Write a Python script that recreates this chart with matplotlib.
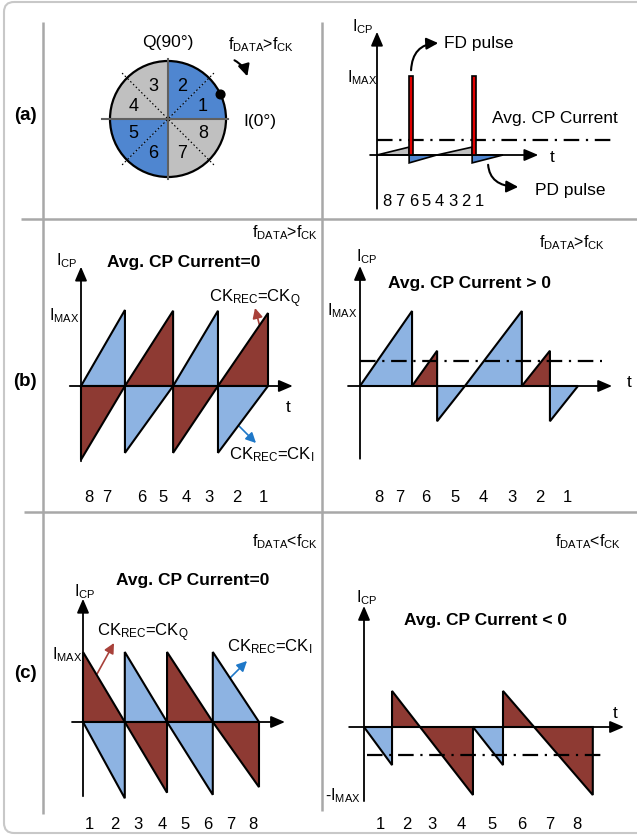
"""Charge-pump current waveforms for the I/Q phase sectors (three cases)."""

import matplotlib

matplotlib.use("Agg")
import matplotlib.pyplot as plt  # noqa: E402
import numpy as np  # noqa: E402
from matplotlib.patches import (  # noqa: E402
    Circle,
    FancyArrowPatch,
    FancyBboxPatch,
    Polygon,
    Rectangle,
    Wedge,
)

plt.rcParams["font.family"] = ["Liberation Sans", "DejaVu Sans"]
plt.rcParams["mathtext.fontset"] = "custom"
plt.rcParams["mathtext.rm"] = "Liberation Sans"
plt.rcParams["mathtext.it"] = "Liberation Sans:italic"
plt.rcParams["mathtext.bf"] = "Liberation Sans:bold"

W, H = 637, 837

COLORS = {
    "blue": "#4F86D0",
    "gray": "#C0C0C0",
    "lblue": "#8DB3E2",
    "red": "#8E3A33",
    "pulse": "#E00000",
}

# ---- (a) phase circle: sector number -> quadrant colour, data phase marker (deg)
SECTORS = [1, 2, 3, 4, 5, 6, 7, 8]
SECTOR_FILL = ["blue", "blue", "gray", "gray", "blue", "blue", "gray", "gray"]
DOT_ANGLE = 25

# ---- (a) CP current, t in clock periods, I in units of I_MAX
A_T = [0.0, 0.51, 0.95, 1.51, 2.0]
A_START = [0.0, -0.10, 0.0, -0.10]
A_END = [0.10, 0.0, 0.10, 0.0]
A_FILL = ["gray", "blue", "gray", "blue"]
A_PULSE_T = [0.51, 1.51]
A_PULSE_W = 0.065
A_PULSE_H = 1.0
A_AVG = 0.19
A_ORDER = ["8", "7", "6", "5", "4", "3", "2", "1"]

# ---- (b) left: f_DATA > f_CK, both recovered clocks
BL_T = [0.0, 0.94, 1.97, 2.93, 4.0]
BL_TOP = [1.0, 0.99, 0.99, 0.96]
BL_BOT = [-0.97, -0.88, -0.88, -0.88]
BL_TOP_FILL = ["lblue", "red", "lblue", "red"]
BL_BOT_FILL = ["red", "lblue", "red", "lblue"]
BL_ORDER = ["8", "7", "6", "5", "4", "3", "2", "1"]

# ---- (b) right: f_DATA > f_CK, resulting CP current
BR_T = [0.0, 1.91, 2.83, 3.85, 5.94, 6.97, 8.0]
BR_START = [0.0, 0.0, -0.47, 0.0, 0.0, -0.47]
BR_END = [1.0, 0.47, 0.0, 1.0, 0.47, 0.0]
BR_FILL = ["lblue", "red", "lblue", "lblue", "red", "lblue"]
BR_AVG = 0.33
BR_ORDER = ["8", "7", "6", "5", "4", "3", "2", "1"]

# ---- (c) left: f_DATA < f_CK, both recovered clocks
CL_T = [0.0, 0.95, 1.91, 2.95, 4.0]
CL_TOP = [1.0, 1.0, 1.0, 1.0]
CL_BOT = [-1.09, -1.01, -1.04, -0.93]
CL_TOP_FILL = ["red", "lblue", "red", "lblue"]
CL_BOT_FILL = ["lblue", "red", "lblue", "red"]
CL_ORDER = ["1", "2", "3", "4", "5", "6", "7", "8"]

# ---- (c) right: f_DATA < f_CK, resulting CP current
CR_T = [0.0, 0.98, 3.81, 4.86, 8.0]
CR_START = [0.0, 0.53, 0.0, 0.53]
CR_END = [-0.56, -1.0, -0.56, -1.0]
CR_FILL = ["lblue", "red", "lblue", "red"]
CR_AVG = -0.41
CR_ORDER = ["1", "2", "3", "4", "5", "6", "7", "8"]

FS = 12.0       # plain labels
SUB_FS = 11.5   # I_CP / I_MAX / f_DATA labels
BOLD_FS = 12.5  # "Avg. CP Current" headings
NUM_FS = 12.0   # sector order under the waveforms

fig = plt.figure(figsize=(W / 100, H / 100), dpi=100)
base = fig.add_axes([0, 0, 1, 1])
base.set_xlim(0, W)
base.set_ylim(H, 0)
base.axis("off")


def overlay(x0, y0, sx, sy):
    """Full-figure axes whose data origin sits at pixel (x0, y0), sx/sy px per unit."""
    ax = fig.add_axes([0, 0, 1, 1], facecolor="none")
    ax.set_xlim(-x0 / sx, (W - x0) / sx)
    ax.set_ylim(-(H - y0) / sy, y0 / sy)
    ax.axis("off")
    return ax


def txt(x, y, s, ha="center", size=FS, weight="normal"):
    base.text(x, y, s, ha=ha, va="center", fontsize=size, fontweight=weight)


def segments(ax, t, start, end, fills, lw=1.5):
    for k, fc in enumerate(fills):
        t0, t1 = t[k], t[k + 1]
        poly = Polygon(
            [(t0, 0), (t0, start[k]), (t1, end[k]), (t1, 0)],
            closed=True,
            facecolor=COLORS[fc],
            edgecolor="black",
            lw=lw,
            joinstyle="miter",
            zorder=2,
        )
        ax.add_patch(poly)


def axes_arrows(ax, xr, yr, lw=1.3):
    style = "-|>,head_length=0.7,head_width=0.3"
    for a, b in (((xr[0], 0), (xr[1], 0)), ((0, yr[0]), (0, yr[1]))):
        ax.add_patch(
            FancyArrowPatch(a, b, arrowstyle=style, mutation_scale=12, lw=lw,
                            color="black", shrinkA=0, shrinkB=0, zorder=3)
        )


def avg_line(ax, x0, x1, level):
    ax.plot([x0, x1], [level, level], color="black", lw=1.6,
            ls=(0, (7, 3, 1, 3)), zorder=4)


def small_arrow(p0, p1, color):
    base.add_patch(
        FancyArrowPatch(p0, p1, arrowstyle="-|>,head_length=0.6,head_width=0.3",
                        mutation_scale=10, lw=1.2, color=color, shrinkA=0, shrinkB=0)
    )


def curved_arrow(p0, p1, conn):
    base.add_patch(
        FancyArrowPatch(p0, p1, connectionstyle=conn,
                        arrowstyle="-|>,head_length=0.7,head_width=0.35",
                        mutation_scale=10, lw=1.5, color="black")
    )


def order_labels(labels, xs, y):
    for lab, x in zip(labels, xs):
        txt(x, y, lab, size=NUM_FS)


# ---------------------------------------------------------------- frame
base.add_patch(
    FancyBboxPatch((4, 3), 660, 831, boxstyle="round,pad=0,rounding_size=10",
                   fc="none", ec="#C8C8C8", lw=1.5)
)
grid = dict(color="#A8A8A8", lw=1.8, solid_capstyle="butt")
base.plot([43, 43], [23, 815], **grid)
base.plot([322, 322], [23, 812], **grid)
base.plot([21, W], [220, 220], **grid)
base.plot([24, W], [513, 513], **grid)

txt(25, 115, "(a)", size=13.5, weight="bold")
txt(25, 381, "(b)", size=13.5, weight="bold")
txt(25, 673, "(c)", size=13.5, weight="bold")

# ---------------------------------------------------------------- (a) circle
axc = overlay(168, 120, 58, 58)
for k, fc in zip(SECTORS, SECTOR_FILL):
    th = 45 * (k - 1)
    axc.add_patch(Wedge((0, 0), 1.0, th, th + 45, fc=COLORS[fc], ec="none"))
    ang = np.radians(th + 22.5)
    axc.text(0.65 * np.cos(ang), 0.62 * np.sin(ang), str(k), ha="center",
             va="center", fontsize=13, zorder=4)
for ang in (45, 135):
    r = np.radians(ang)
    axc.plot([-1.12 * np.cos(r), 1.12 * np.cos(r)], [-1.12 * np.sin(r), 1.12 * np.sin(r)],
             color="black", lw=0.8, ls=(0, (1.5, 2)))
axc.plot([-1.14, 1.03], [0, 0], color="#606060", lw=1.5)
axc.plot([0, 0], [-1.03, 1.03], color="#606060", lw=1.5)
axc.add_patch(Circle((0, 0), 1.0, fc="none", ec="black", lw=1.6))
axc.add_patch(Circle((np.cos(np.radians(DOT_ANGLE)), np.sin(np.radians(DOT_ANGLE))),
                     0.075, fc="black", ec="black", zorder=5))
txt(168, 42, "Q(90°)", size=12.5)
txt(243, 121, "I(0°)", ha="left", size=12.5)
txt(261, 45, r"f$_{\rm DATA}$>f$_{\rm CK}$", size=SUB_FS)
curved_arrow((232, 60), (248, 80), "arc3,rad=-0.25")

# ---------------------------------------------------------------- (a) waveform
axa = overlay(377, 156, 63, 79)
segments(axa, A_T, A_START, A_END, A_FILL, lw=1.2)
for tp in A_PULSE_T:
    axa.add_patch(Rectangle((tp, 0), A_PULSE_W, A_PULSE_H, fc=COLORS["pulse"],
                            ec="black", lw=1.2, zorder=5))
axes_arrows(axa, (-0.11, 2.56), (-0.68, 1.56))
avg_line(axa, 0.0, 3.81, A_AVG)
txt(363, 27, r"I$_{\rm CP}$", size=SUB_FS)
txt(362, 78, r"I$_{\rm MAX}$", size=SUB_FS)
txt(444, 43, "FD pulse", ha="left", size=12.5)
txt(555, 118, "Avg. CP Current", size=12.5)
txt(552, 157, "t", size=12.5)
txt(535, 190, "PD pulse", ha="left", size=12.5)
order_labels(A_ORDER, np.linspace(387, 479, len(A_ORDER)), 201)
curved_arrow((411, 74), (441, 44), "angle3,angleA=90,angleB=0")
curved_arrow((488, 163), (521, 188), "angle3,angleA=-90,angleB=0")

# ---------------------------------------------------------------- (b) left
axbl = overlay(81, 387, 46.75, 76)
segments(axbl, BL_T, [0] * 4, BL_TOP, BL_TOP_FILL)
segments(axbl, BL_T, BL_BOT, [0] * 4, BL_BOT_FILL)
axes_arrows(axbl, (-0.24, 4.53), (-0.99, 1.57))
txt(285, 233, r"f$_{\rm DATA}$>f$_{\rm CK}$", size=SUB_FS)
txt(67, 261, r"I$_{\rm CP}$", size=SUB_FS)
txt(184, 262, "Avg. CP Current=0", size=BOLD_FS, weight="bold")
txt(64, 316, r"I$_{\rm MAX}$", size=SUB_FS)
txt(255, 299, r"CK$_{\rm REC}$=CK$_{\rm Q}$")
txt(288, 408, "t", size=12.5)
txt(272, 455, r"CK$_{\rm REC}$=CK$_{\rm I}$")
small_arrow((260, 328), (255, 309), "#A8413A")
small_arrow((232, 420), (256, 444), "#1F78C8")
order_labels(BL_ORDER, [89, 107, 142, 163, 186, 209, 237, 263], 498)

# ---------------------------------------------------------------- (b) right
axbr = overlay(360, 387, 27.25, 75)
segments(axbr, BR_T, BR_START, BR_END, BR_FILL)
axes_arrows(axbr, (-0.44, 9.25), (-0.97, 1.6))
avg_line(axbr, 0.0, 8.88, BR_AVG)
txt(572, 243, r"f$_{\rm DATA}$>f$_{\rm CK}$", size=SUB_FS)
txt(367, 257, r"I$_{\rm CP}$", size=SUB_FS)
txt(470, 283, "Avg. CP Current > 0", size=BOLD_FS, weight="bold")
txt(342, 311, r"I$_{\rm MAX}$", size=SUB_FS)
txt(629, 382, "t", size=12.5)
order_labels(BR_ORDER, [379, 400, 426, 455, 483, 512, 540, 567], 497)

# ---------------------------------------------------------------- (c) left
axcl = overlay(83, 723, 44, 70)
segments(axcl, CL_T, CL_TOP, [0] * 4, CL_TOP_FILL)
segments(axcl, CL_T, [0] * 4, CL_BOT, CL_BOT_FILL)
axes_arrows(axcl, (-0.25, 4.59), (-1.06, 1.76))
txt(285, 542, r"f$_{\rm DATA}$<f$_{\rm CK}$", size=SUB_FS)
txt(193, 580, "Avg. CP Current=0", size=BOLD_FS, weight="bold")
txt(85, 592, r"I$_{\rm CP}$", size=SUB_FS)
txt(143, 633, r"CK$_{\rm REC}$=CK$_{\rm Q}$")
txt(67, 655, r"I$_{\rm MAX}$", size=SUB_FS)
txt(270, 647, r"CK$_{\rm REC}$=CK$_{\rm I}$")
small_arrow((97, 675), (114, 644), "#A8413A")
small_arrow((227, 682), (247, 662), "#1F78C8")
order_labels(CL_ORDER, [89, 115, 138, 162, 185, 208, 231, 253], 825)

# ---------------------------------------------------------------- (c) right
axcr = overlay(364, 728, 28.6, 68)
segments(axcr, CR_T, CR_START, CR_END, CR_FILL)
axes_arrows(axcr, (-0.52, 9.09), (-1.09, 1.78))
avg_line(axcr, 0.1, 8.5, CR_AVG)
txt(588, 542, r"f$_{\rm DATA}$<f$_{\rm CK}$", size=SUB_FS)
txt(367, 598, r"I$_{\rm CP}$", size=SUB_FS)
txt(485, 620, "Avg. CP Current < 0", size=BOLD_FS, weight="bold")
txt(615, 714, "t", size=12.5)
txt(343, 796, r"-I$_{\rm MAX}$", size=SUB_FS)
order_labels(CR_ORDER, [380, 407, 432, 461, 492, 522, 550, 577], 825)

fig.savefig("out.png", dpi=100)
